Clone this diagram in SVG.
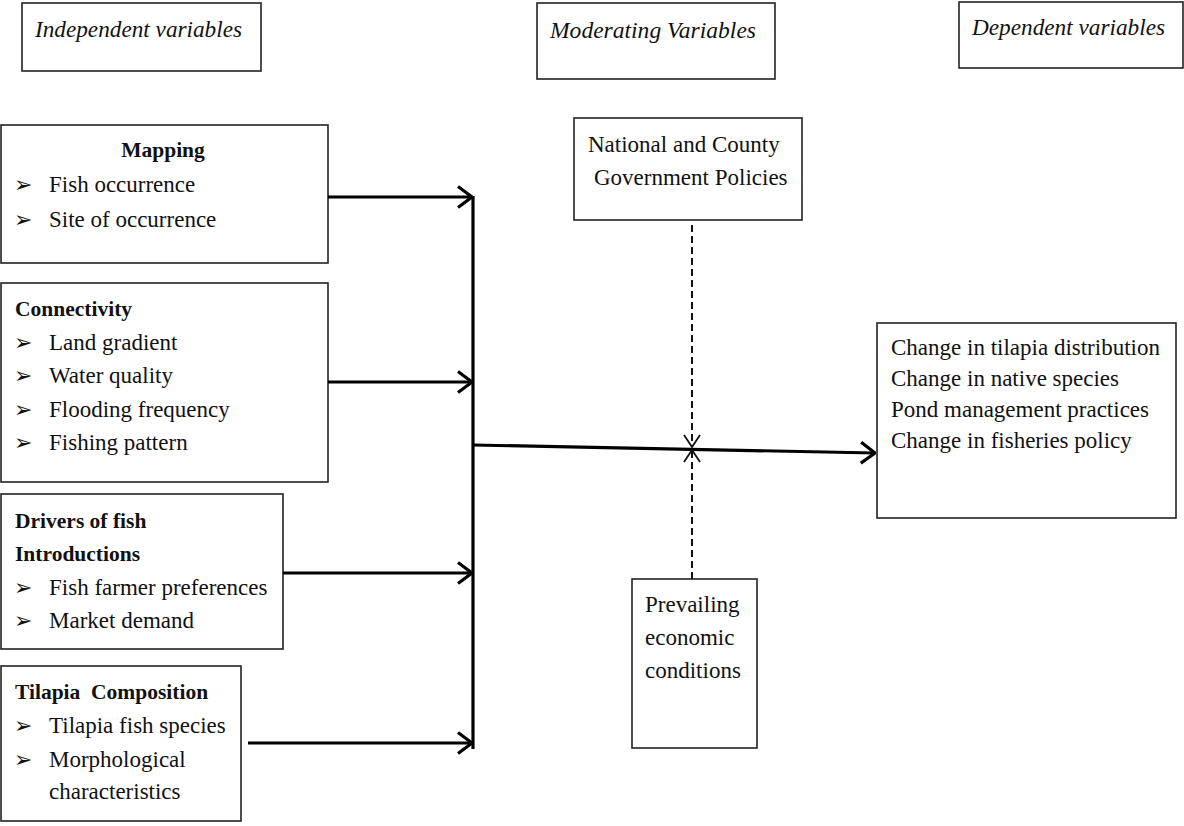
<svg xmlns="http://www.w3.org/2000/svg" width="1184" height="826" viewBox="0 0 1184 826">
<defs>
<style>
.box{fill:#fff;stroke:#222;stroke-width:1.6}
.t{font-family:"Liberation Serif","Times New Roman",serif;font-size:23px;fill:#111}
.b{font-weight:bold;font-size:21.5px}
.h{font-style:italic;font-size:24px}
.bul{font-family:"DejaVu Sans",sans-serif;font-size:22px;fill:#111}
.solid{fill:none;stroke:#000;stroke-width:3.2}
.dash{fill:none;stroke:#111;stroke-width:2;stroke-dasharray:7 4}
</style>
<marker id="ah" viewBox="0 0 16 24" refX="15" refY="12" markerWidth="16" markerHeight="24" markerUnits="userSpaceOnUse" orient="auto">
<path d="M1,1.5 L15,12 L1,22.5" fill="none" stroke="#000" stroke-width="3.2"/>
</marker>
<marker id="ahd" viewBox="0 0 14 18" refX="13" refY="9" markerWidth="14" markerHeight="18" markerUnits="userSpaceOnUse" orient="auto">
<path d="M1,1 L13,9 L1,17" fill="none" stroke="#111" stroke-width="1.8"/>
</marker>
</defs>
<rect width="1184" height="826" fill="#fff"/>

<g id="hdr-independent">
<rect class="box" x="22" y="3" width="239" height="68"/>
<text class="t h" x="35" y="37" textLength="207" lengthAdjust="spacingAndGlyphs">Independent variables</text>
</g>
<g id="hdr-moderating">
<rect class="box" x="537" y="3" width="238" height="76"/>
<text class="t h" x="550" y="38" textLength="206" lengthAdjust="spacingAndGlyphs">Moderating Variables</text>
</g>
<g id="hdr-dependent">
<rect class="box" x="959" y="2" width="224" height="66"/>
<text class="t h" x="972" y="35" textLength="193" lengthAdjust="spacingAndGlyphs">Dependent variables</text>
</g>

<g id="mapping">
<rect class="box" x="1" y="125" width="327" height="138"/>
<text class="t b" x="163" y="157" text-anchor="middle">Mapping</text>
<text class="bul" x="14" y="192">➢</text><text class="t" x="49" y="192">Fish occurrence</text>
<text class="bul" x="14" y="227">➢</text><text class="t" x="49" y="227">Site of occurrence</text>
</g>

<g id="connectivity">
<rect class="box" x="1" y="283" width="327" height="199"/>
<text class="t b" x="15" y="316">Connectivity</text>
<text class="bul" x="14" y="350">➢</text><text class="t" x="49" y="350">Land gradient</text>
<text class="bul" x="14" y="383">➢</text><text class="t" x="49" y="383">Water quality</text>
<text class="bul" x="14" y="417">➢</text><text class="t" x="49" y="417">Flooding frequency</text>
<text class="bul" x="14" y="450">➢</text><text class="t" x="49" y="450">Fishing pattern</text>
</g>

<g id="drivers">
<rect class="box" x="1" y="494" width="282" height="155"/>
<text class="t b" x="15" y="528">Drivers of fish</text>
<text class="t b" x="15" y="561">Introductions</text>
<text class="bul" x="14" y="595">➢</text><text class="t" x="49" y="595">Fish farmer preferences</text>
<text class="bul" x="14" y="628">➢</text><text class="t" x="49" y="628">Market demand</text>
</g>

<g id="tilapia">
<rect class="box" x="1" y="666" width="240" height="155"/>
<text class="t b" x="15" y="699" xml:space="preserve">Tilapia  Composition</text>
<text class="bul" x="14" y="733">➢</text><text class="t" x="49" y="733">Tilapia fish species</text>
<text class="bul" x="14" y="767">➢</text><text class="t" x="49" y="767">Morphological</text>
<text class="t" x="49" y="799">characteristics</text>
</g>

<g id="policies">
<rect class="box" x="574" y="118" width="228" height="102"/>
<text class="t" x="588" y="152">National and County</text>
<text class="t" x="594" y="185">Government Policies</text>
</g>

<g id="economic">
<rect class="box" x="632" y="579" width="125" height="169"/>
<text class="t" x="645" y="612">Prevailing</text>
<text class="t" x="645" y="645">economic</text>
<text class="t" x="645" y="678">conditions</text>
</g>

<g id="outcomes">
<rect class="box" x="877" y="323" width="299" height="195"/>
<text class="t" x="891" y="355">Change in tilapia distribution</text>
<text class="t" x="891" y="386">Change in native species</text>
<text class="t" x="891" y="417">Pond management practices</text>
<text class="t" x="891" y="448">Change in fisheries policy</text>
</g>

<g id="connectors">
<path class="solid" d="M473,196 V749"/>
<path class="solid" d="M328,197 H472" marker-end="url(#ah)"/>
<path class="solid" d="M328,382 H472" marker-end="url(#ah)"/>
<path class="solid" d="M283,573 H472" marker-end="url(#ah)"/>
<path class="solid" d="M248,743 H472" marker-end="url(#ah)"/>
<path class="solid" d="M473,445 L875,453" marker-end="url(#ah)"/>
<path class="dash" d="M692,225 V447" marker-end="url(#ahd)"/>
<path class="dash" d="M692,579 V450" marker-end="url(#ahd)"/>
</g>
</svg>
